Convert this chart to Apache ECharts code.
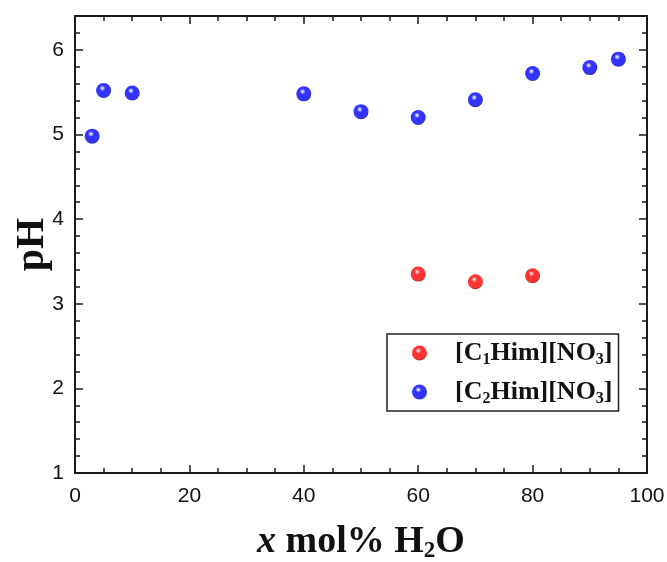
<!DOCTYPE html>
<html>
<head>
<meta charset="utf-8">
<script src="https://cdn.jsdelivr.net/npm/echarts@6/dist/echarts.min.js"></script>
<style>
  html, body { margin: 0; padding: 0; background: #fff; }
  #chart { width: 667px; height: 562px; }
</style>
</head>
<body>
<div id="chart"></div>
<script>
// pH vs water content for two protic ionic liquids
const c1Water = [60, 70, 80];
const c1PH = [3.35, 3.26, 3.33];
const c2Water = [3, 5, 10, 40, 50, 60, 70, 80, 90, 95];
const c2PH = [4.98, 5.52, 5.49, 5.48, 5.27, 5.20, 5.41, 5.72, 5.79, 5.89];

const X_MIN = 0, X_MAX = 100, X_MAJOR = 20, X_MINOR = 5;
const Y_MIN = 1, Y_MAX = 6.4, Y_MAJOR = 1, Y_MINOR = 0.2;

const LABEL_FONT = "'Liberation Sans', Arial, sans-serif";
const SERIF = "'Liberation Serif', 'DejaVu Serif', serif";
const AXIS_COLOR = '#1a1a1a';

// glossy sphere look for the markers
function sphere(light, mid, dark) {
  return {
    type: 'radial', x: 0.42, y: 0.35, r: 0.62,
    colorStops: [
      { offset: 0, color: '#ffffff' },
      { offset: 0.1, color: light },
      { offset: 0.32, color: mid },
      { offset: 0.85, color: mid },
      { offset: 1, color: dark },
    ],
  };
}

// one axis per tick length; major ones carry line + labels
function xAxisDef(position, major, withLabels) {
  return {
    type: 'value', position, min: X_MIN, max: X_MAX,
    interval: major ? X_MAJOR : X_MINOR,
    axisLine: { show: major, onZero: false, lineStyle: { color: AXIS_COLOR, width: 2 } },
    axisTick: { show: true, inside: true, length: major ? 8 : 5, lineStyle: { color: AXIS_COLOR, width: 1.5 } },
    axisLabel: { show: withLabels, color: '#111', fontFamily: LABEL_FONT, fontSize: 21, margin: 13 },
    splitLine: { show: false },
  };
}

function yAxisDef(position, major, withLabels) {
  return {
    type: 'value', position, min: Y_MIN, max: Y_MAX,
    interval: major ? Y_MAJOR : Y_MINOR,
    axisLine: { show: major, onZero: false, lineStyle: { color: AXIS_COLOR, width: 2 } },
    axisTick: { show: true, inside: true, length: major ? 8 : 5, lineStyle: { color: AXIS_COLOR, width: 1.5 } },
    axisLabel: { show: withLabels, showMaxLabel: false, color: '#111', fontFamily: LABEL_FONT, fontSize: 21, margin: 11 },
    splitLine: { show: false },
  };
}

const xMain = xAxisDef('bottom', true, true);
xMain.name = '{i|x} mol% H{s|2}O';
xMain.nameLocation = 'middle';
xMain.nameGap = 48;
xMain.nameTextStyle = {
  fontFamily: SERIF, fontWeight: 'bold', fontSize: 38, color: '#111', lineHeight: 42,
  rich: {
    i: { fontFamily: SERIF, fontWeight: 'bold', fontStyle: 'italic', fontSize: 38, lineHeight: 42 },
    s: { fontFamily: SERIF, fontWeight: 'bold', fontSize: 23, lineHeight: 18, verticalAlign: 'bottom' },
  },
};

const yMain = yAxisDef('left', true, true);
yMain.name = 'pH';
yMain.nameLocation = 'middle';
yMain.nameRotate = 90;
yMain.nameGap = 22;
yMain.nameMoveOverlap = false;
yMain.nameTextStyle = { fontFamily: SERIF, fontWeight: 'bold', fontSize: 40, color: '#111' };

const legendRich = {
  s: { fontFamily: SERIF, fontWeight: 'bold', fontSize: 16, lineHeight: 14, verticalAlign: 'bottom', color: '#111' },
};

const chart = echarts.init(document.getElementById('chart'), null, { renderer: 'canvas' });
chart.setOption({
  animation: false,
  backgroundColor: '#fff',
  grid: { left: 75, right: 20, top: 16, bottom: 89, outerBoundsMode: 'none', containLabel: false },
  xAxis: [
    xMain,
    xAxisDef('bottom', false, false),
    xAxisDef('top', true, false),
    xAxisDef('top', false, false),
  ],
  yAxis: [
    yMain,
    yAxisDef('left', false, false),
    yAxisDef('right', true, false),
    yAxisDef('right', false, false),
  ],
  legend: {
    orient: 'vertical',
    left: 387, top: 334,
    padding: [4, 6, 4, 25],
    itemWidth: 15, itemHeight: 15, itemGap: 9,
    borderColor: '#222', borderWidth: 1.5,
    icon: 'circle',
    data: ['C1', 'C2'],
    formatter: (name) => name === 'C1' ? '[C{s|1}Him][NO{s|3}]' : '[C{s|2}Him][NO{s|3}]',
    textStyle: {
      fontFamily: SERIF, fontWeight: 'bold', fontSize: 26, lineHeight: 30, color: '#111',
      padding: [0, 0, 0, 23],
      rich: legendRich,
    },
  },
  series: [
    {
      name: 'C1', type: 'scatter', xAxisIndex: 0, yAxisIndex: 0,
      symbol: 'circle', symbolSize: 15,
      itemStyle: { color: sphere('#ffb0b0', '#ff0000', '#b00000') },
      data: c1Water.map((x, i) => [x, c1PH[i]]),
    },
    {
      name: 'C2', type: 'scatter', xAxisIndex: 0, yAxisIndex: 0,
      symbol: 'circle', symbolSize: 15,
      itemStyle: { color: sphere('#b8b8ff', '#0000ff', '#0000b0') },
      data: c2Water.map((x, i) => [x, c2PH[i]]),
    },
  ],
});
</script>
</body>
</html>
